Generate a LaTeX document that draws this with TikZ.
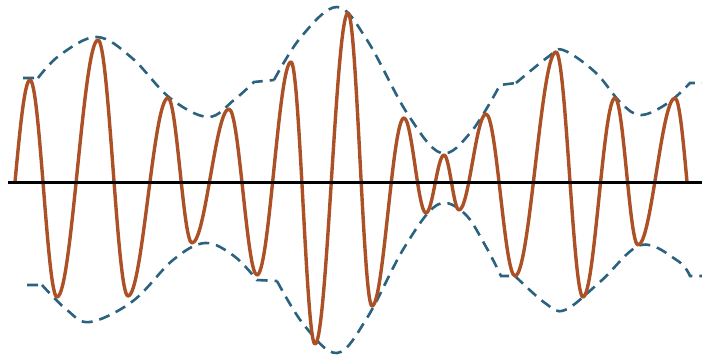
\documentclass[tikz,border=0pt]{standalone}
\usepackage{tikz}

\definecolor{wavecolor}{RGB}{172,80,38}
\definecolor{envcolor}{RGB}{42,98,128}

\tikzset{
  wave/.style={wavecolor, line width=3.4pt, line cap=round, line join=round},
  envelope/.style={envcolor, line width=2.6pt, dash pattern=on 11pt off 7pt},
  axisline/.style={black, line width=3pt}
}

\begin{document}
\begin{tikzpicture}[x=1pt, y=-1pt]
    \useasboundingbox (0,0) rectangle (702,356);

    % Upper envelope
    \draw[envelope] (23,78) -- (38,78)
      plot[smooth, tension=0.6] coordinates {(38,78) (60,55) (97,37) (132,58) (170,98) (208,117) (234,100) (254,82)}
      -- (274,80)
      plot[smooth, tension=0.6] coordinates {(274,80) (301,37) (337,7) (367,40) (407,113) (441,153) (471,132) (500,85)}
      -- (516,83)
      plot[smooth, tension=0.6] coordinates {(516,83) (548,57) (563,50) (595,72) (621,103) (641,115) (668,103) (690,83)}
      -- (702,83);

    % Lower envelope
    \draw[envelope] (27,285) -- (42,285)
      plot[smooth, tension=0.6] coordinates {(42,285) (67,310) (90,322) (133,301) (173,260) (205,243) (234,256) (257,280)}
      -- (277,281)
      plot[smooth, tension=0.6] coordinates {(277,281) (304,325) (337,353) (367,318) (404,248) (437,205) (464,213) (485,245) (501,276)}
      -- (515,276)
      plot[smooth, tension=0.6] coordinates {(515,276) (545,303) (565,310) (601,281) (641,245) (678,261) (690,276)}
      -- (702,276);

    % Modulated signal
    \draw[wave] (15,182) sin (30,80)
      foreach \x/\y [remember=\x as \px (initially 30), remember=\y as \py (initially 80)] in
        {57/297, 98/40, 128/296, 168/98, 192/243, 229/109, 257/275, 291/62, 315/344,
         348/13, 372/306, 404/118, 426/213, 444/155, 459/210, 486/114, 515/276,
         556/52, 583/297, 615/98, 638/245, 675/98}
      { cos ({(\px+\x)/2},{(\py+\y)/2}) sin (\x,\y) }
      cos (687,182);

    % Time axis
    \draw[axisline] (8,182) -- (702,182);
\end{tikzpicture}
\end{document}
